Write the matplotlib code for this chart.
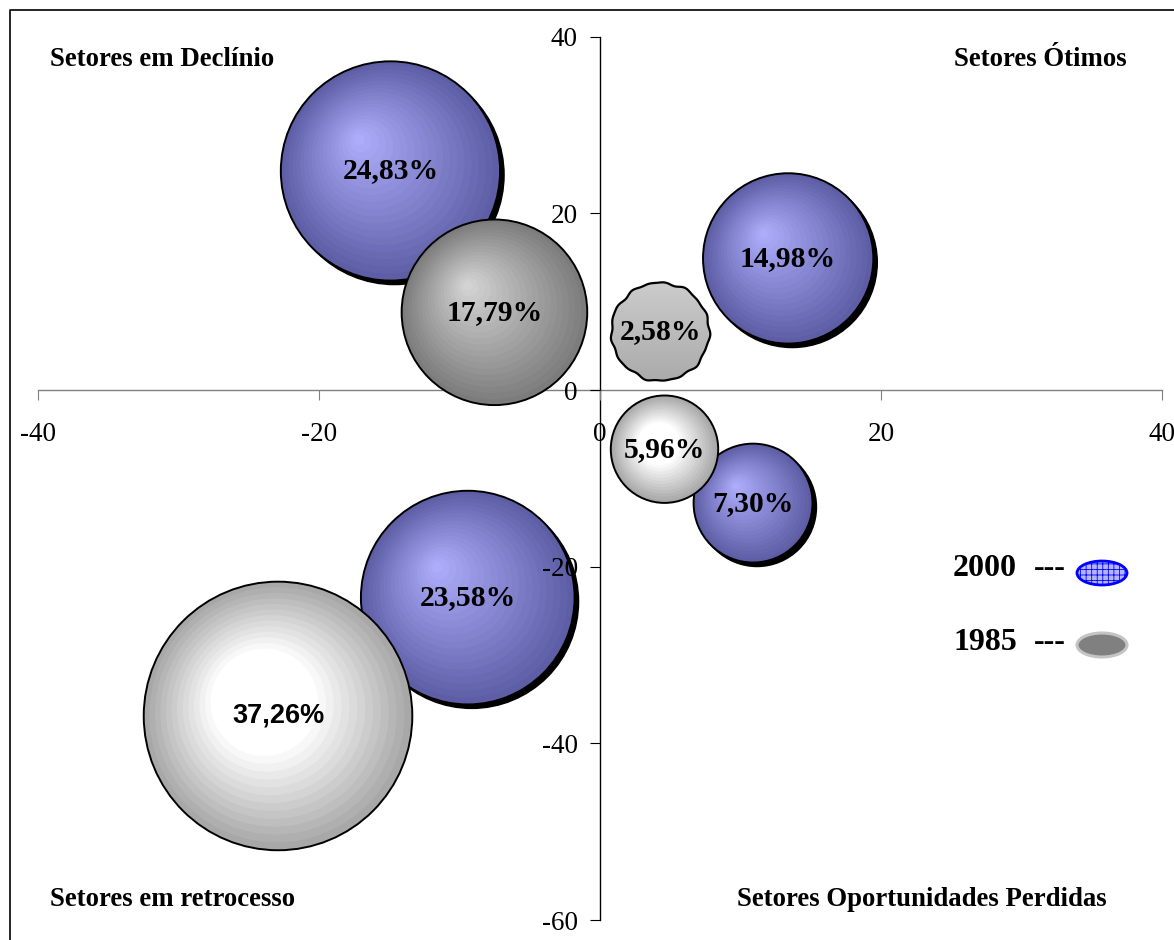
import numpy as np
import matplotlib.pyplot as plt
from matplotlib.patches import Circle, Ellipse, Polygon
from matplotlib.colors import to_rgb

plt.rcParams['font.family'] = 'Liberation Serif'
plt.rcParams['hatch.linewidth'] = 0.6

W, H = 1174, 940

# posição dos setores (x, y) e participação (%) em cada ano
x_2000 = [-14.9, 13.4, 10.9, -9.4]
y_2000 = [24.8, 14.9, -12.8, -23.5]
pct_2000 = [24.83, 14.98, 7.30, 23.58]

x_1985 = [-7.5, 4.3, 4.6, -22.9]
y_1985 = [8.8, 6.6, -6.7, -36.9]
pct_1985 = [17.79, 2.58, 5.96, 37.26]
tipo_1985 = ['cinza', 'liso', 'branco', 'branco']

xticks = [-40, -20, 0, 20, 40]
xtick_labels = ['-40', '-20', '0', '20', '40']
yticks = [-60, -40, -20, 0, 20, 40]
ytick_labels = ['-60', '-40', '-20', '0', '20', '40']

quadrantes = ['Setores em Declínio', 'Setores Ótimos',
              'Setores em retrocesso', 'Setores Oportunidades Perdidas']
anos = ['2000', '1985']


def fmt_pct(v):
    return f'{v:.2f}'.replace('.', ',') + '%'


fig = plt.figure(figsize=(W / 100, H / 100), dpi=100)
ax = fig.add_axes([37.7 / W, 20 / H, 1124.3 / W, 883.3 / H])
ax.set_xlim(-40, 40)
ax.set_ylim(-60, 40)
ax.patch.set_alpha(0)
ax.set_zorder(5)
for s in ax.spines.values():
    s.set_visible(False)
ax.spines['left'].set_position(('data', 0))
ax.spines['bottom'].set_position(('data', 0))
ax.set_xticks(xticks)
ax.set_xticklabels(xtick_labels)
ax.set_yticks(yticks)
ax.set_yticklabels(ytick_labels)
ax.tick_params(axis='x', direction='out', length=7, pad=16, labelsize=19.5,
               color='#808080', labelcolor='black')
ax.tick_params(axis='y', direction='out', length=7, pad=9, labelsize=19.5)

# camada em pixels abaixo dos rótulos, para desenhar as bolhas redondas
ov = fig.add_axes([0, 0, 1, 1])
ov.set_xlim(0, W)
ov.set_ylim(H, 0)
ov.axis('off')
ov.patch.set_alpha(0)
ov.set_zorder(1)


def to_px(x, y):
    px, py = ax.transData.transform((x, y))
    return px, H - py


# moldura e linhas dos eixos (as bolhas passam por cima)
ov.plot([10, 10, W + 5], [H + 5, 10, 10], color='black', lw=1.2)
x0, y0 = to_px(-40, 0)
x1, _ = to_px(40, 0)
ov.plot([x0, x1], [y0, y0], color='#808080', lw=1.0, zorder=1)
xa, ya0 = to_px(0, 40)
_, ya1 = to_px(0, -60)
ov.plot([xa, xa], [ya0, ya1], color='black', lw=1.0, zorder=1)


def raio(v):
    # área proporcional ao valor; bolhas muito pequenas ganham tamanho mínimo
    return max(22.0 * np.sqrt(v), 49.0)


def esfera(cx, cy, r, c_centro, c_borda, foco=0.3, plato=0.0, n=20,
           sombra=False, z=2):
    c0, c1 = np.array(to_rgb(c_centro)), np.array(to_rgb(c_borda))
    if sombra:
        ov.add_patch(Circle((cx + 4, cy + 4), r, color='black', zorder=z))
    fx, fy = cx - foco * r, cy - foco * r
    for i in range(n, 0, -1):
        t = i / n
        k = np.clip((t - plato) / (1 - plato), 0, 1)
        cor = c0 + (c1 - c0) * k
        ov.add_patch(Circle((fx + t * (cx - fx), fy + t * (cy - fy)), t * r,
                            color=cor, lw=0, zorder=z))
    ov.add_patch(Circle((cx, cy), r, fill=False, ec='black', lw=1.4, zorder=z))


def bolha_irregular(cx, cy, r, z=2):
    th = np.linspace(0, 2 * np.pi, 240, endpoint=False)
    rr = r * (1 + 0.014 * np.sin(11 * th) + 0.010 * np.sin(17 * th + 1.0)
              + 0.008 * np.sin(7 * th + 2.0))
    pts = np.column_stack([cx + rr * np.cos(th), cy + rr * np.sin(th)])
    borda = Polygon(pts, closed=True, fill=False, ec='black', lw=1.6, zorder=z + 0.1)
    ov.add_patch(borda)
    grad = np.linspace(0, 1, 100).reshape(-1, 1)
    c0, c1 = np.array(to_rgb('#cdcdcd')), np.array(to_rgb('#a9a9a9'))
    img = c0 + (c1 - c0) * grad[..., None]
    im = ov.imshow(img, extent=(cx - r * 1.1, cx + r * 1.1, cy + r * 1.1, cy - r * 1.1),
                   aspect='auto', zorder=z, interpolation='bilinear')
    clip = Polygon(pts, closed=True, transform=ov.transData)
    im.set_clip_path(clip)


lbl_serif = dict(fontsize=21.3, fontweight='bold', ha='center', va='center',
                 family='Liberation Serif')

# série 2000 (azul, com sombra)
for x, y, v in zip(x_2000, y_2000, pct_2000):
    cx, cy = to_px(x, y)
    esfera(cx, cy, raio(v), '#b0b0ff', '#5e5ea6', foco=0.3, sombra=True, z=2)
    ov.text(cx, cy, fmt_pct(v), zorder=10, **lbl_serif)

# série 1985 (cinza / branco)
for x, y, v, tp in zip(x_1985, y_1985, pct_1985, tipo_1985):
    cx, cy = to_px(x, y)
    r = raio(v)
    if tp == 'cinza':
        esfera(cx, cy, r, '#d8d8d8', '#7c7c7c', foco=0.3, z=4)
    elif tp == 'branco':
        esfera(cx, cy, r, '#ffffff', '#a8a8a8', foco=0.17, plato=0.4, z=4)
    else:
        bolha_irregular(cx, cy, r, z=4)
    if v == max(pct_1985):
        ov.text(cx, cy, fmt_pct(v), zorder=10, fontsize=19.5, fontweight='bold',
                ha='center', va='center', family='Liberation Sans')
    else:
        ov.text(cx, cy, fmt_pct(v), zorder=10, **lbl_serif)

# rótulos dos quadrantes
quad = dict(fontsize=19.3, fontweight='bold', va='center', zorder=10)
ov.text(50, 60, quadrantes[0], ha='left', **quad)
ov.text(1127, 60, quadrantes[1], ha='right', **quad)
ov.text(50, 900, quadrantes[2], ha='left', **quad)
ov.text(1107, 900, quadrantes[3], ha='right', **quad)

# legenda
leg = dict(fontsize=23, fontweight='bold', va='center', zorder=10)
ov.text(953, 569, anos[0], ha='left', **leg)
ov.text(1034, 569, '---', ha='left', **leg)
ov.text(953, 642, anos[1], ha='left', **leg)
ov.text(1034, 642, '---', ha='left', **leg)
ov.add_patch(Ellipse((1102, 573), 50, 24, fc='#b4b4ff', ec='#0000ff', lw=2,
                     hatch='+++', zorder=10))
ov.add_patch(Ellipse((1102, 645), 50, 24, fc='#808080', ec='#c4c4c4', lw=2.2,
                     zorder=10))

fig.savefig('out.png', dpi=100)
